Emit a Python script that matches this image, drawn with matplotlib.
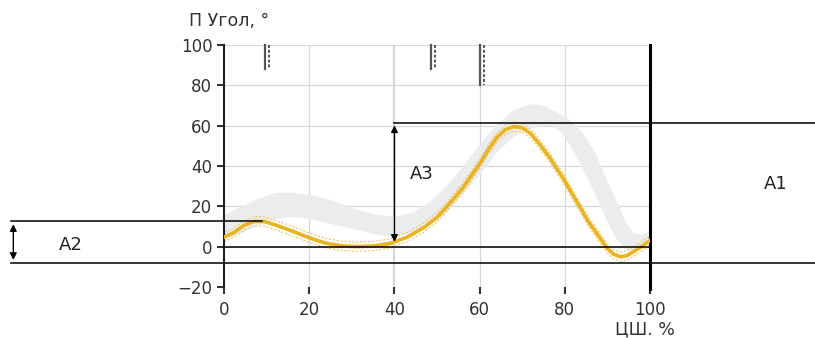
import numpy as np
import matplotlib.pyplot as plt

# --- data ---
pct = [0, 2.3, 4.7, 7, 9.4, 11.7, 15.6, 19.6, 23.5, 27.4, 31, 35, 39, 43, 47,
       50, 53, 56, 58, 60, 62, 64, 66, 68, 70, 72, 74, 76.5, 78, 79.6, 81.5,
       83.6, 85.5, 87.5, 89.9, 91.5, 93, 94.5, 96, 98, 100]
angle = [4.7, 7, 10.6, 12.5, 12.5, 11, 8, 4.7, 1.9, 0.4, 0, 0.3, 1.6, 4.7, 9.6,
         14.5, 21.5, 29, 35, 41, 48, 54, 58, 59.5, 59, 56, 51, 44, 39, 34, 27,
         19.5, 12.5, 6.6, -0.7, -3.8, -5, -4.5, -2.7, 0, 3]

norm_up_x = [0, 4, 8, 12, 16, 20, 24, 28, 32, 36, 40, 44, 48, 52, 56, 60, 64,
             68, 72, 75, 78, 81, 84, 87, 90, 92.5, 94, 96, 98, 100]
norm_up = [16, 20, 24, 27, 27, 26, 24, 21, 18, 16, 15, 17, 22, 30, 40, 51, 61,
           68, 71, 70, 67, 63, 57, 47, 32, 21, 13, 7, 6, 8]
norm_lo_x = [0, 4, 8, 12, 16, 20, 24, 28, 32, 36, 40, 44, 48, 52, 56, 60, 64,
             68, 72, 75, 77, 79, 81, 83.6, 86, 88, 90, 92, 94, 96, 98, 100]
norm_lo = [4, 7, 11, 14, 15, 14, 12, 10, 8, 6, 5.5, 7, 11, 17, 26, 36, 47, 55,
           59, 60, 60, 57, 51, 41, 31, 21.5, 12, 4, -1, -2, 0, 2]

events = [(10, 88), (49, 88), (60.5, 80)]  # (x, lower end of marker)

xticks = [0, 20, 40, 60, 80, 100]
yticks = [-20, 0, 20, 40, 60, 80, 100]

fig = plt.figure(figsize=(8.15, 3.38), dpi=100)
ax = fig.add_axes([0.275, 0.151, 0.5225, 0.716])
ax.set_xlim(0, 100)
ax.set_ylim(-20, 100)

x = np.array(pct)
y = np.array(angle)

# grid
for gx in xticks[1:-1]:
    ax.axvline(gx, color='#d8d8d8', lw=1.6 if gx == 40 else 0.9, zorder=0)
for gy in yticks[1:]:
    ax.axhline(gy, color='#d8d8d8', lw=0.9, zorder=0)

# normal band
band = np.array(sorted(set(norm_up_x) | set(norm_lo_x)))
ax.fill_between(band, np.interp(band, norm_lo_x, norm_lo),
                np.interp(band, norm_up_x, norm_up),
                color='#eaecee', lw=0, zorder=1)

# patient curve
ax.plot(x, y + 2.3, color='#f5c563', lw=0.8, ls=(0, (2, 1.5)), zorder=2)
ax.plot(x, y - 2.3, color='#f5c563', lw=0.8, ls=(0, (2, 1.5)), zorder=2)
ax.plot(x, y, color='#eab320', lw=2.6, zorder=3, solid_joinstyle='round')

# event markers
for ex, ey in events:
    ax.plot([ex - 0.5, ex - 0.5], [100, ey], color='#555555', lw=1.6, clip_on=False)
    ax.plot([ex + 0.5, ex + 0.5], [100, ey], color='#555555', lw=1.4, ls=(0, (1.5, 1)),
            clip_on=False)

# measurement lines
k = dict(color='black', lw=1.1, clip_on=False, zorder=4)
ax.plot([0, 100], [0, 0], **k)
ax.plot([-50, 139], [-8, -8], **k)
ax.plot([-50, 9], [12.5, 12.5], **k)
ax.plot([40, 139], [61.5, 61.5], **k)
ax.annotate('', xy=(-49.5, 12.5), xytext=(-49.5, -8),
            arrowprops=dict(arrowstyle='<|-|>', color='black', lw=1, mutation_scale=10),
            annotation_clip=False)
ax.annotate('', xy=(40, 61.5), xytext=(40, 1),
            arrowprops=dict(arrowstyle='<|-|>', color='black', lw=1, mutation_scale=10),
            annotation_clip=False)
ax.text(-36, 1, 'A2', fontsize=13, ha='center', va='center', color='#222222')
ax.text(46.5, 36, 'A3', fontsize=13, ha='center', va='center', color='#222222')
ax.text(129.5, 31, 'A1', fontsize=13, ha='center', va='center', color='#222222')

# spines
for s in ['top', 'bottom']:
    ax.spines[s].set_visible(False)
ax.spines['left'].set_color('#222222')
ax.spines['left'].set_linewidth(1.5)
ax.spines['right'].set_color('black')
ax.spines['right'].set_linewidth(2.2)
ax.spines['right'].set_bounds(-21, 100)

ax.set_xticks(xticks)
ax.set_yticks(yticks)
ax.tick_params(labelsize=12, colors='#333333', length=5, width=1.5)
ax.tick_params(axis='x', pad=5)

fig.text(0.281, 0.937, 'П Угол, °', fontsize=12.5, color='#333333', ha='center', va='center')
fig.text(0.791, 0.025, 'ЦШ. %', fontsize=12.5, color='#333333', ha='center', va='center')

fig.savefig('out.png', dpi=100)
